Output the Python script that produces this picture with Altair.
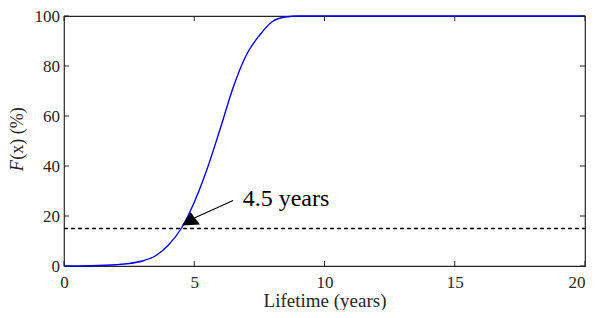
import altair as alt
import pandas as pd

# Curve values
lifetime = [0, 1, 2, 2.5, 3, 3.5, 4, 4.5, 5, 5.5, 6, 6.5, 7, 7.5, 8, 8.5, 9, 10, 15, 20]
cdf = [0, 0.1, 0.5, 1.0, 2.0, 4.0, 8.3, 15.0, 25.5, 39.0, 55.0, 71.6, 84.4, 92.2, 97.8, 99.6, 100, 100, 100, 100]

# Threshold line
threshold = 15
x_range = [0, 20]

# Annotation
ann_text = "4.5 years"
ann_text_pos = [6.86, 24.2]
ann_line = [[6.49, 26.2], [4.96, 19.0]]
ann_head = [4.87, 18.1]

x_ticks = [0, 5, 10, 15, 20]
y_ticks = [0, 20, 40, 60, 80, 100]

W, H = 521, 250
FONT = "Liberation Serif, Times New Roman, serif"
GREY = "#262626"

curve_df = pd.DataFrame({"x": lifetime, "y": cdf})
xs = alt.Scale(domain=x_range, nice=False, zero=False)
ys = alt.Scale(domain=[0, 100], nice=False)

base = alt.Chart(curve_df)

curve = base.mark_line(color="#0000ff", strokeWidth=1.4, interpolate="monotone").encode(
    x=alt.X("x:Q", scale=xs,
            axis=alt.Axis(values=x_ticks, title="Lifetime (years)", ticks=False, domain=False,
                          grid=False, labelPadding=8, labelFont=FONT, labelFontSize=17,
                          labelAlign=alt.expr("datum.value == 20 ? 'right' : 'center'"),
                          titleFont=FONT, titleFontSize=19,
                          titleBaseline="alphabetic", titleY=40.5)),
    y=alt.Y("y:Q", scale=ys,
            axis=alt.Axis(values=y_ticks, title=None, ticks=False, domain=False,
                          labelFont=FONT, labelFontSize=17,
                          grid=False, labelPadding=4.5)),
)

thr_df = pd.DataFrame({"x": [x_range[0]], "x2": [x_range[1]], "y": [threshold]})
thr = alt.Chart(thr_df).mark_rule(color="black", strokeWidth=1.3, strokeDash=[4, 3]).encode(
    x=alt.X("x:Q", scale=xs), x2="x2:Q", y=alt.Y("y:Q", scale=ys))

arr_df = pd.DataFrame({"x": [ann_line[0][0]], "y": [ann_line[0][1]],
                       "x2": [ann_line[1][0]], "y2": [ann_line[1][1]]})
arr = alt.Chart(arr_df).mark_rule(color="black", strokeWidth=1.1).encode(
    x=alt.X("x:Q", scale=xs), y=alt.Y("y:Q", scale=ys), x2="x2:Q", y2="y2:Q")

head_df = pd.DataFrame({"x": [ann_head[0]], "y": [ann_head[1]]})
head = alt.Chart(head_df).mark_point(
    shape="M-0.98,0.53L-0.02,-0.93L1,0.42Z", size=331, filled=True, color="black", opacity=1
).encode(x=alt.X("x:Q", scale=xs), y=alt.Y("y:Q", scale=ys))

txt_df = pd.DataFrame({"x": [ann_text_pos[0]], "y": [ann_text_pos[1]], "t": [ann_text]})
txt = alt.Chart(txt_df).mark_text(align="left", baseline="alphabetic", font=FONT, fontSize=24,
                                  color="black").encode(
    x=alt.X("x:Q", scale=xs), y=alt.Y("y:Q", scale=ys), text="t:N")

# inward ticks
xt_df = pd.DataFrame({"x": x_ticks})
yt_df = pd.DataFrame({"y": y_ticks})
TL = 5
xt_bot = alt.Chart(xt_df).mark_rule(color=GREY, strokeWidth=1).encode(
    x=alt.X("x:Q", scale=xs), y=alt.value(H), y2=alt.value(H - TL))
xt_top = alt.Chart(xt_df).mark_rule(color=GREY, strokeWidth=1).encode(
    x=alt.X("x:Q", scale=xs), y=alt.value(0), y2=alt.value(TL))
yt_left = alt.Chart(yt_df).mark_rule(color=GREY, strokeWidth=1).encode(
    y=alt.Y("y:Q", scale=ys), x=alt.value(0), x2=alt.value(TL))
yt_right = alt.Chart(yt_df).mark_rule(color=GREY, strokeWidth=1).encode(
    y=alt.Y("y:Q", scale=ys), x=alt.value(W), x2=alt.value(W - TL))

# y title with italic F
yt1 = alt.Chart(pd.DataFrame({"t": ["F"]})).mark_text(
    angle=270, align="left", baseline="alphabetic", font=FONT, fontSize=18,
    fontStyle="italic", color=GREY).encode(x=alt.value(-41.5), y=alt.value(155.3), text="t:N")
yt2 = alt.Chart(pd.DataFrame({"t": ["(x) (%)"]})).mark_text(
    angle=270, align="left", baseline="alphabetic", font=FONT, fontSize=18,
    color=GREY).encode(x=alt.value(-41.5), y=alt.value(143.8), text="t:N")

chart = alt.layer(curve, thr, arr, head, txt, xt_bot, xt_top, yt_left, yt_right, yt1, yt2).properties(
    width=W, height=H,
    background="white",
    autosize=alt.AutoSizeParams(type="none"),
    padding={"left": 56, "top": 8, "right": 2, "bottom": 44},
).configure_view(stroke=GREY, strokeWidth=1.2).configure_axis(
    labelColor=GREY, titleColor=GREY, titleFontWeight="normal"
)

chart.save("out.html", embed_options={"renderer": "svg", "actions": False})
